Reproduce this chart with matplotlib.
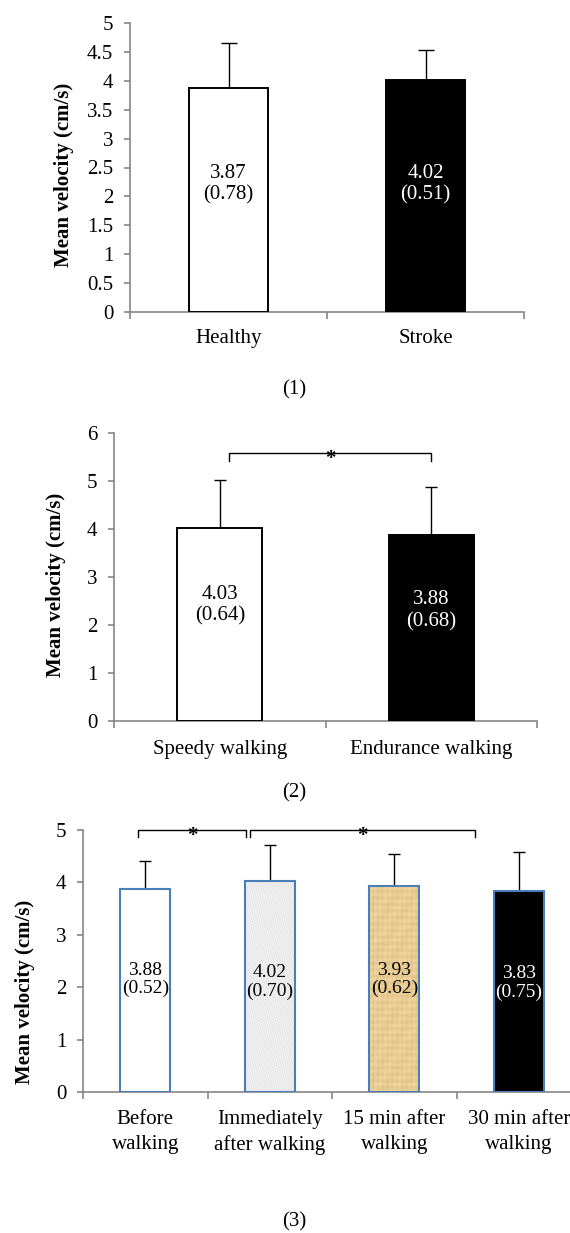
import numpy as np
import matplotlib
matplotlib.use('Agg')
import matplotlib.pyplot as plt
from matplotlib.ticker import FixedLocator, NullFormatter

plt.rcParams['font.family'] = ['Liberation Serif', 'DejaVu Serif']

# ---------------------------------------------------------------------------
# Data
# ---------------------------------------------------------------------------
p1_labels = ['Healthy', 'Stroke']
p1_means = [3.87, 4.02]
p1_sd = [0.78, 0.51]

p2_labels = ['Speedy walking', 'Endurance walking']
p2_means = [4.03, 3.88]
p2_sd = [0.64, 0.68]
p2_err_drawn = [0.99, 1.00]     # error bars as drawn in the figure

p3_labels = ['Before\nwalking', 'Immediately\nafter walking',
             '15 min after\nwalking', '30 min after\nwalking']
p3_means = [3.88, 4.02, 3.93, 3.83]
p3_sd = [0.52, 0.70, 0.62, 0.75]

# significance brackets: (x0, x1, y)
p2_brackets = [(0.045, 1.0, 5.58)]
p3_brackets = [(-0.06, 0.81, 5.0), (0.84, 2.65, 5.0)]

W, H = 570, 1233
AXIS_GRAY = '#868686'
EDGE_BLUE = '#4A7EBB'
FS = 15


def style_axes(ax, n, ymax, ystep, xpad):
    for s in ('top', 'right'):
        ax.spines[s].set_visible(False)
    for s in ('left', 'bottom'):
        ax.spines[s].set_color(AXIS_GRAY)
        ax.spines[s].set_linewidth(1.2)
    ax.set_xlim(-0.5, n - 0.5)
    ax.set_ylim(0, ymax)
    ax.set_yticks(np.arange(0, ymax + 1e-9, ystep))
    ax.yaxis.set_major_formatter(plt.FuncFormatter(lambda v, p: f'{v:g}'))
    ax.tick_params(axis='y', direction='out', length=4, width=1.2,
                   color=AXIS_GRAY, pad=8, labelsize=FS)
    ax.set_xticks(range(n))
    ax.xaxis.set_minor_locator(FixedLocator(np.arange(-0.5, n, 1.0)))
    ax.xaxis.set_minor_formatter(NullFormatter())
    ax.tick_params(axis='x', which='major', length=0, pad=xpad, labelsize=FS)
    ax.tick_params(axis='x', which='minor', direction='out', length=5,
                   width=1.2, color=AXIS_GRAY)


def bracket(ax, x0, x1, y, drop):
    ax.plot([x0, x0, x1, x1], [y - drop, y, y, y - drop], color='black',
            lw=1, clip_on=False, zorder=5)
    ax.annotate('*', xy=((x0 + x1) / 2, y), xytext=(0, -4),
                textcoords='offset points', ha='center', va='center',
                fontsize=FS, fontweight='bold', annotation_clip=False,
                zorder=6)


def texture(ax, bar, kind):
    x0, w, h = bar.get_x(), bar.get_width(), bar.get_height()
    yy, xx = np.mgrid[0:220, 0:50].astype(float)
    if kind == 'gray':
        n = (np.sin(xx * 1.9 + yy * 0.7) * np.sin(xx * 0.8 - yy * 1.3)
             + 0.5 * np.sin(xx * 3.1 - yy * 2.7))
        v = 0.925 + 0.035 * n
        img = np.dstack([v, v, v])
    else:
        n = (0.6 * np.sin(yy * 0.9) + 0.4 * np.sin(xx * 1.3)
             + 0.3 * np.sin(xx * 0.35 + yy * 0.2))
        base = np.array([232, 204, 148]) / 255.0
        img = np.clip(base[None, None, :] + 0.035 * n[..., None], 0, 1)
    im = ax.imshow(img, extent=[x0, x0 + w, 0, h], aspect='auto',
                   interpolation='bilinear', zorder=2.5)
    im.set_clip_path(bar)


fig = plt.figure(figsize=(W / 100, H / 100), dpi=100)


def axes_px(left, right, top, bottom):
    return fig.add_axes([left / W, 1 - bottom / H, (right - left) / W,
                         (bottom - top) / H])


def ylabel(ax, x, y):
    ax.text(x, y, 'Mean velocity (cm/s)', transform=ax.transAxes,
            rotation=90, ha='center', va='center', fontsize=FS,
            fontweight='bold')


# ---------------------------------------------------------------------------
# Panel (1)
# ---------------------------------------------------------------------------
ax1 = axes_px(130, 524, 23, 312)
x1 = np.arange(len(p1_labels))
ax1.bar(x1, p1_means, width=0.4, color=['white', 'black'],
        edgecolor='black', linewidth=1.4, zorder=3)
ax1.errorbar(x1, p1_means, yerr=[np.zeros(2), p1_sd], fmt='none',
             ecolor='black', elinewidth=1, capsize=6, capthick=1, zorder=2)
for xi, m, s, c in zip(x1, p1_means, p1_sd, ['black', 'white']):
    ax1.text(xi, 2.21, f'{m:.2f}\n({s:.2f})', ha='center', va='center',
             fontsize=FS, color=c, zorder=4)
style_axes(ax1, 2, 5, 0.5, xpad=12.5)
ax1.set_xticklabels(p1_labels)
ylabel(ax1, -0.168, 0.474)
fig.text(294 / W, 1 - 390 / H, '(1)', ha='center', va='center', fontsize=FS)

# ---------------------------------------------------------------------------
# Panel (2)
# ---------------------------------------------------------------------------
ax2 = axes_px(114, 537, 433, 721)
x2 = np.arange(len(p2_labels))
ax2.bar(x2, p2_means, width=0.4, color=['white', 'black'],
        edgecolor='black', linewidth=1.4, zorder=3)
ax2.errorbar(x2, p2_means, yerr=[np.zeros(2), p2_err_drawn], fmt='none',
             ecolor='black', elinewidth=1, capsize=4.5, capthick=1, zorder=2)
for xi, m, s, c, yt in zip(x2, p2_means, p2_sd, ['black', 'white'],
                           [2.41, 2.30]):
    ax2.text(xi, yt, f'{m:.2f}\n({s:.2f})', ha='center', va='center',
             fontsize=FS, color=c, zorder=4)
for b in p2_brackets:
    bracket(ax2, *b, drop=0.17)
style_axes(ax2, 2, 6, 1, xpad=14)
ax2.set_xticklabels(p2_labels)
ylabel(ax2, -0.137, 0.472)
fig.text(294 / W, 1 - 793 / H, '(2)', ha='center', va='center', fontsize=FS)

# ---------------------------------------------------------------------------
# Panel (3)
# ---------------------------------------------------------------------------
ax3 = axes_px(83, 581, 830, 1092)
x3 = np.arange(len(p3_labels))
bars3 = ax3.bar(x3, p3_means, width=0.4,
                color=['white', '#EDEDED', '#E8CC94', 'black'],
                edgecolor='none', zorder=2)
texture(ax3, bars3[1], 'gray')
texture(ax3, bars3[2], 'tan')
ax3.bar(x3, p3_means, width=0.4, fill=False, edgecolor=EDGE_BLUE,
        linewidth=1.5, zorder=3)
ax3.errorbar(x3, p3_means, yerr=[np.zeros(4), p3_sd], fmt='none',
             ecolor='black', elinewidth=1, capsize=4.5, capthick=1, zorder=1)
for xi, m, s, c, yt in zip(x3, p3_means, p3_sd,
                           ['black', 'black', 'black', 'white'],
                           [2.15, 2.10, 2.15, 2.08]):
    ax3.text(xi, yt, f'{m:.2f}\n({s:.2f})', ha='center', va='center',
             fontsize=14, color=c, linespacing=1.1, zorder=4)
for b in p3_brackets:
    bracket(ax3, *b, drop=0.14)
style_axes(ax3, 4, 5, 1, xpad=13)
ax3.set_xticklabels(p3_labels, linespacing=1.4)
ylabel(ax3, -0.1165, 0.382)
fig.text(294 / W, 1 - 1222 / H, '(3)', ha='center', va='center', fontsize=FS)

fig.savefig('out.png', dpi=100)
